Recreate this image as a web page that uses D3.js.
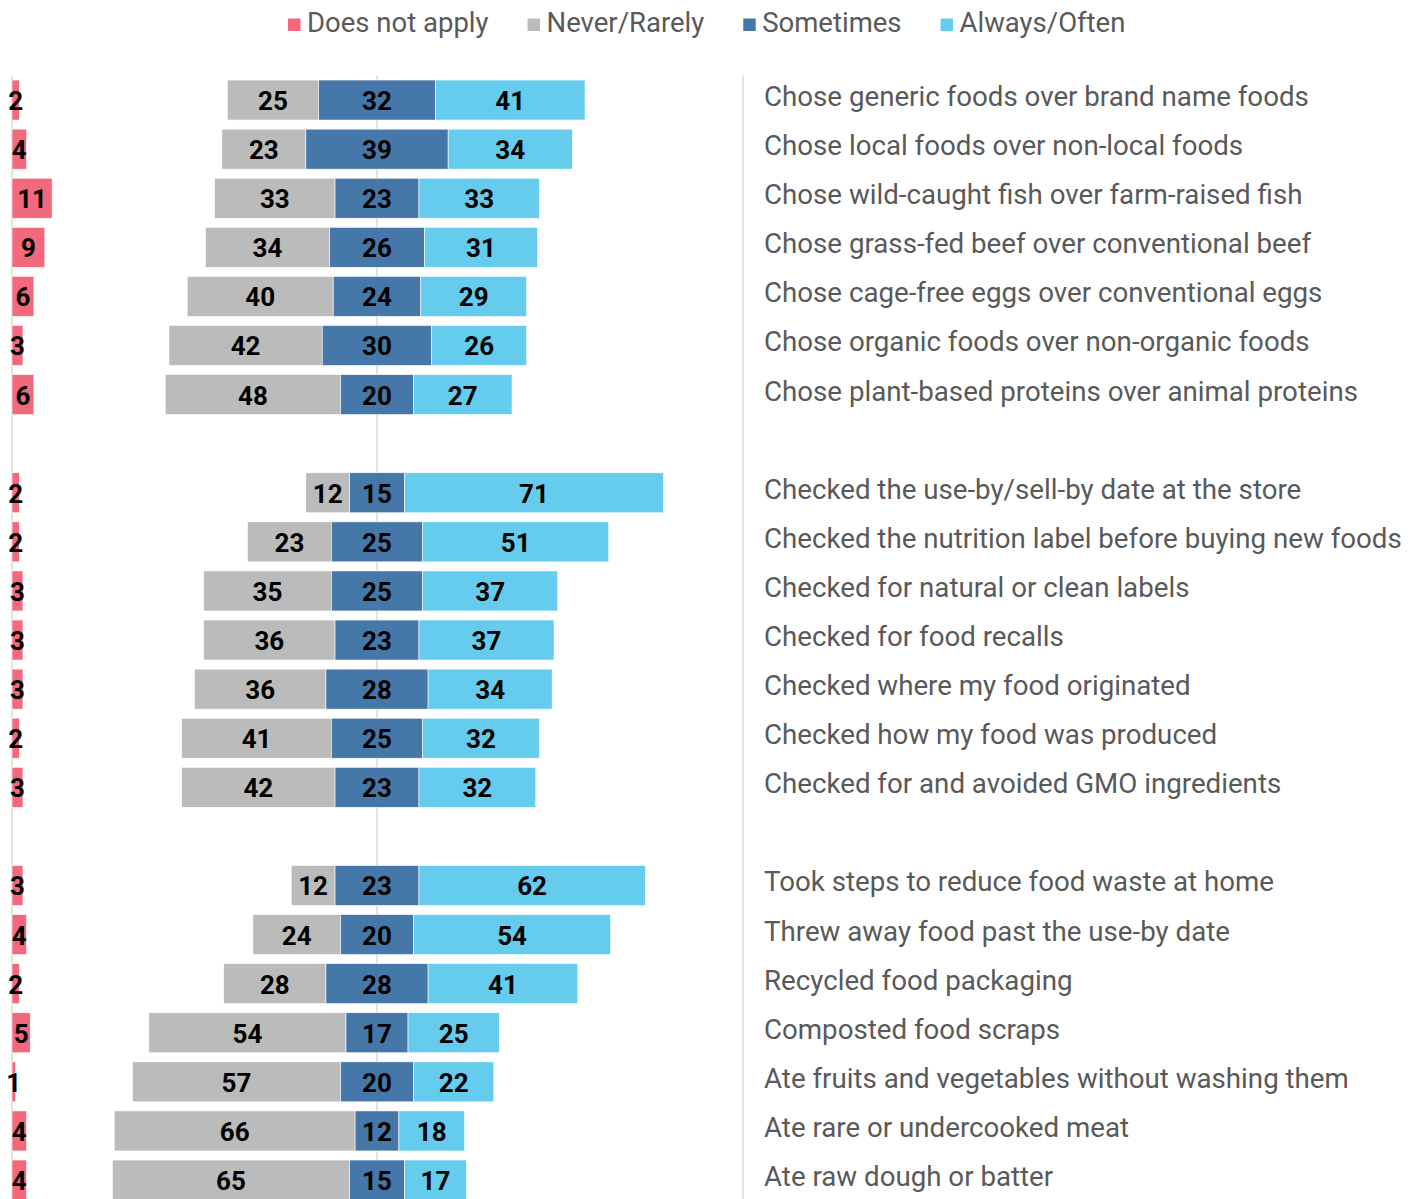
<!DOCTYPE html>
<html>
<head>
<meta charset="utf-8">
<script src="https://cdn.jsdelivr.net/npm/d3@7"></script>
<style>
  html, body { margin: 0; padding: 0; background: #fff; }
  svg { display: block; }
</style>
</head>
<body>
<svg id="chart" width="1426" height="1199"></svg>
<script>
// ---- Data ----
const categories = [
  "Chose generic foods over brand name foods",
  "Chose local foods over non-local foods",
  "Chose wild-caught fish over farm-raised fish",
  "Chose grass-fed beef over conventional beef",
  "Chose cage-free eggs over conventional eggs",
  "Chose organic foods over non-organic foods",
  "Chose plant-based proteins over animal proteins",
  "",
  "Checked the use-by/sell-by date at the store",
  "Checked the nutrition label before buying new foods",
  "Checked for natural or clean labels",
  "Checked for food recalls",
  "Checked where my food originated",
  "Checked how my food was produced",
  "Checked for and avoided GMO ingredients",
  " ",
  "Took steps to reduce food waste at home",
  "Threw away food past the use-by date",
  "Recycled food packaging",
  "Composted food scraps",
  "Ate fruits and vegetables without washing them",
  "Ate rare or undercooked meat",
  "Ate raw dough or batter"
];
const doesNotApply = [2, 4, 11, 9, 6, 3, 6, null, 2, 2, 3, 3, 3, 2, 3, null, 3, 4, 2, 5, 1, 4, 4];
const neverRarely  = [25, 23, 33, 34, 40, 42, 48, null, 12, 23, 35, 36, 36, 41, 42, null, 12, 24, 28, 54, 57, 66, 65];
const sometimes    = [32, 39, 23, 26, 24, 30, 20, null, 15, 25, 25, 23, 28, 25, 23, null, 23, 20, 28, 17, 20, 12, 15];
const alwaysOften  = [41, 34, 33, 31, 29, 26, 27, null, 71, 51, 37, 37, 34, 32, 32, null, 62, 54, 41, 25, 22, 18, 17];
const seriesNames  = ["Does not apply", "Never/Rarely", "Sometimes", "Always/Often"];
const seriesColors = ["#F2697D", "#BBBBBB", "#4577A8", "#65CCEE"];

// ---- Layout ----
const svg = d3.select("#chart");
const plotLeft = 12, plotRight = 742;
const plotTop = 75.5, step = 49.09;

const x = d3.scaleLinear().domain([-100, 100]).range([plotLeft, plotRight]);
const y = d3.scaleBand().domain(categories)
  .range([plotTop, plotTop + step * categories.length])
  .paddingInner(0.185).paddingOuter(0.0925);

// grid/axis lines
const lineColor = "#D9D9D9";
svg.append("line").attr("x1", x(0)).attr("x2", x(0)).attr("y1", plotTop).attr("y2", 1199)
  .attr("stroke", lineColor).attr("stroke-width", 1.5);
svg.append("line").attr("x1", plotLeft).attr("x2", plotLeft).attr("y1", plotTop).attr("y2", 1199)
  .attr("stroke", lineColor).attr("stroke-width", 1.5);
svg.append("line").attr("x1", plotRight + 1).attr("x2", plotRight + 1).attr("y1", plotTop).attr("y2", 1199)
  .attr("stroke", lineColor).attr("stroke-width", 1.5);

// build segments
const segs = [];
categories.forEach((c, i) => {
  if (sometimes[i] == null) return;
  const s = sometimes[i];
  const sL = -s / 2, sR = s / 2;
  segs.push({c, k: 0, v: doesNotApply[i], x0: -100, x1: -100 + doesNotApply[i]});
  segs.push({c, k: 1, v: neverRarely[i], x0: sL - neverRarely[i], x1: sL});
  segs.push({c, k: 2, v: s, x0: sL, x1: sR});
  segs.push({c, k: 3, v: alwaysOften[i], x0: sR, x1: sR + alwaysOften[i]});
});

const g = svg.append("g");
g.selectAll("rect.bar").data(segs).join("rect")
  .attr("class", "bar")
  .attr("x", d => x(d.x0))
  .attr("width", d => x(d.x1) - x(d.x0))
  .attr("y", d => y(d.c))
  .attr("height", y.bandwidth())
  .attr("fill", d => seriesColors[d.k])
  .attr("stroke", "#ffffff").attr("stroke-width", 0.6);

g.selectAll("text.val").data(segs).join("text")
  .attr("class", "val")
  .attr("x", d => (x(d.x0) + x(d.x1)) / 2)
  .attr("y", d => y(d.c) + y.bandwidth() / 2 + 1)
  .attr("text-anchor", "middle")
  .attr("dominant-baseline", "central")
  .attr("font-family", "Roboto")
  .attr("font-weight", "bold")
  .attr("font-size", 26)
  .attr("fill", "#000")
  .text(d => d.v);

// category labels
svg.selectAll("text.cat").data(categories.filter(c => c.trim() !== "")).join("text")
  .attr("class", "cat")
  .attr("x", 764)
  .attr("y", c => y(c) + y.bandwidth() / 2 - 3.5)
  .attr("dominant-baseline", "central")
  .attr("font-family", "Roboto")
  .attr("font-size", 27.7)
  .attr("fill", "#595959")
  .text(c => c);

// legend
const leg = svg.append("g");
let lx = 288;
seriesNames.forEach((n, i) => {
  leg.append("rect").attr("x", lx).attr("y", 18.5).attr("width", 12.5).attr("height", 12.5)
    .attr("fill", seriesColors[i]);
  const t = leg.append("text").attr("x", lx + 19).attr("y", 22.5)
    .attr("dominant-baseline", "central")
    .attr("font-family", "Roboto").attr("font-size", 27.5).attr("fill", "#595959")
    .text(n);
  lx = lx + 19 + t.node().getComputedTextLength() + 39;
});
</script>
</body>
</html>
